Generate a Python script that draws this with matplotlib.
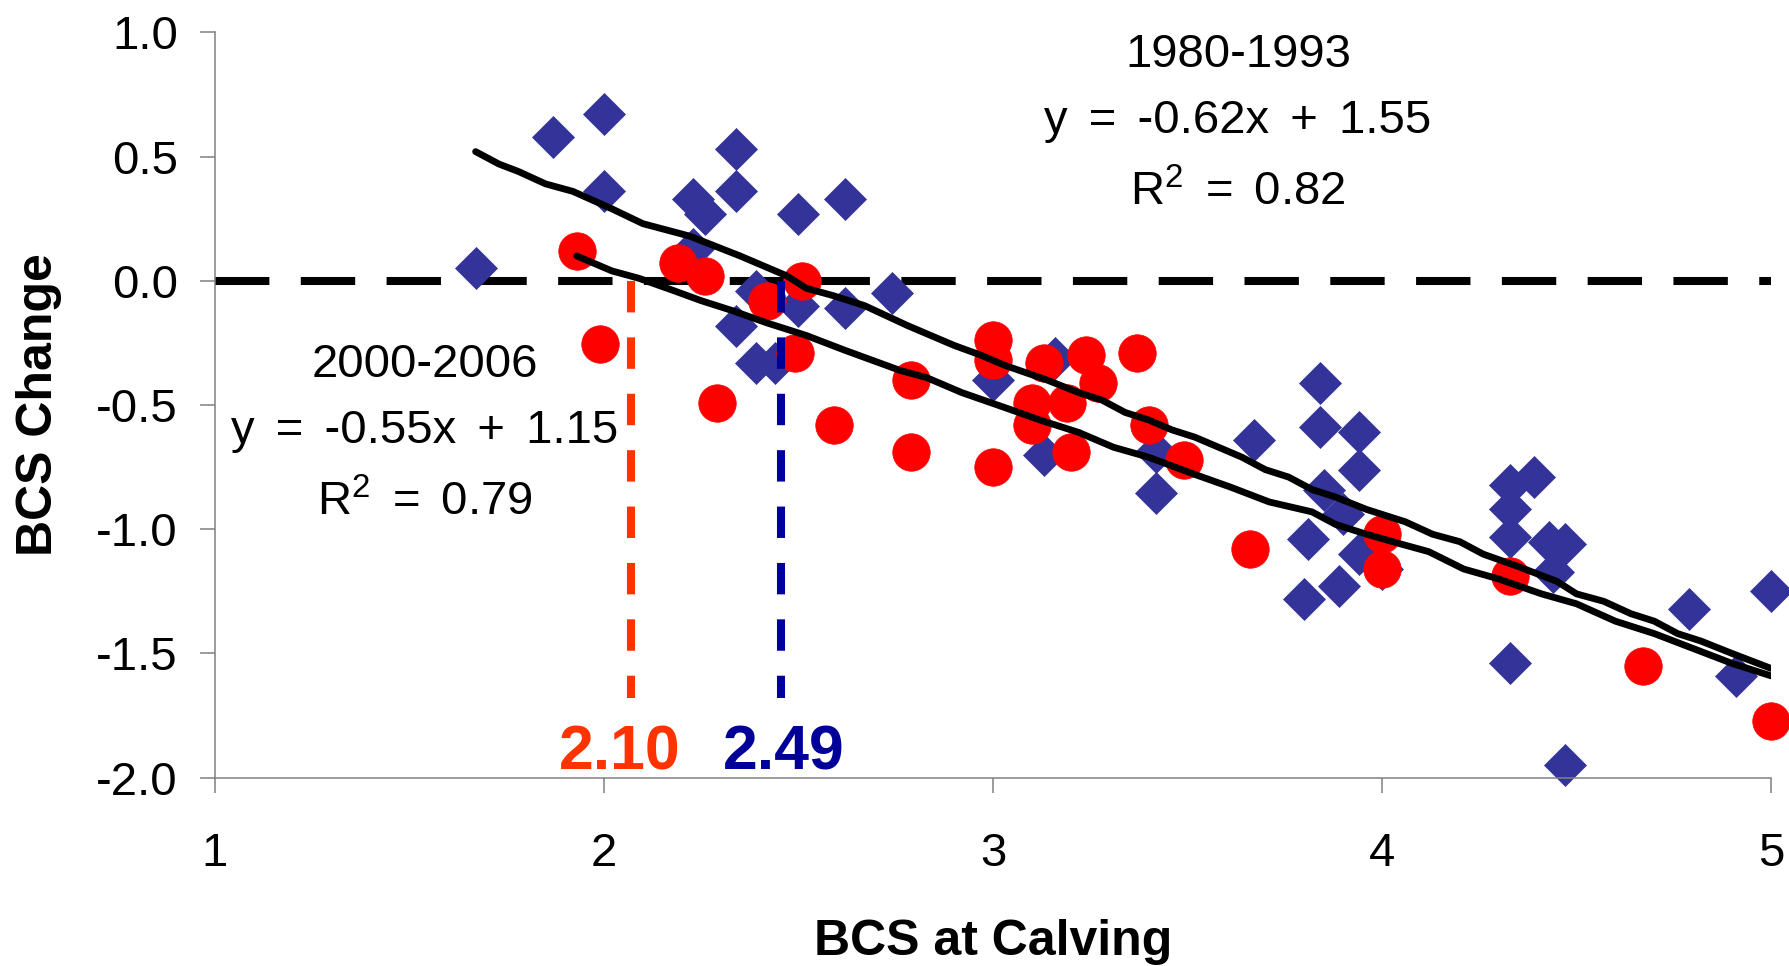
import matplotlib
matplotlib.use("Agg")
import matplotlib.pyplot as plt

plt.rcParams["font.family"] = ["Liberation Sans", "DejaVu Sans"]
plt.rcParams["mathtext.fontset"] = "custom"
plt.rcParams["mathtext.rm"] = "Liberation Sans"

# 1980-1993 herd (blue diamonds)
x_1980 = [1.67, 1.87, 2.00, 2.00, 2.23, 2.26, 2.23, 2.34, 2.34, 2.50, 2.62,
          2.39, 2.34, 2.39, 2.44, 2.50, 2.62, 2.74, 3.00, 3.16, 3.13, 3.42,
          3.42, 3.67, 3.84, 3.84, 3.94, 3.94, 3.85, 3.90, 3.81, 3.94, 4.00,
          3.89, 3.80, 4.33, 4.39, 4.33, 4.33, 4.43, 4.47, 4.44, 4.33, 4.47,
          4.79, 5.00, 4.91]
y_1980 = [0.05, 0.58, 0.67, 0.36, 0.33, 0.27, 0.13, 0.53, 0.36, 0.27, 0.33,
          -0.04, -0.18, -0.33, -0.33, -0.10, -0.11, -0.05, -0.40, -0.31, -0.70, -0.69,
          -0.855, -0.64, -0.41, -0.59, -0.61, -0.76, -0.84, -0.94, -1.04, -1.10, -1.16,
          -1.23, -1.28, -0.82, -0.79, -0.92, -1.03, -1.05, -1.06, -1.17, -1.54, -1.95,
          -1.32, -1.25, -1.59]

# 2000-2006 herd (red circles)
x_2000 = [1.93, 1.99, 2.19, 2.26, 2.29, 2.42, 2.51, 2.49, 2.59, 2.79, 2.79,
          3.00, 3.00, 3.00, 3.13, 3.24, 3.27, 3.37, 3.10, 3.19, 3.10, 3.20,
          3.40, 3.49, 3.66, 4.00, 4.00, 4.33, 4.67, 5.00]
y_2000 = [0.12, -0.255, 0.07, 0.02, -0.49, -0.08, 0.00, -0.29, -0.58, -0.40, -0.69,
          -0.24, -0.32, -0.75, -0.33, -0.30, -0.41, -0.29, -0.49, -0.49, -0.58, -0.69,
          -0.58, -0.72, -1.08, -1.02, -1.16, -1.19, -1.55, -1.77]

# trend lines as drawn in the original
trend_1980_x = [1.67, 1.73, 1.78, 1.85, 1.92, 2.02, 2.10, 2.22, 2.35, 2.44, 2.47,
                2.52, 2.59, 2.67, 2.78, 2.90, 2.97, 3.03, 3.14, 3.22, 3.28, 3.34,
                3.40, 3.46, 3.52, 3.64, 3.70, 3.76, 3.82, 3.88, 3.96, 4.06, 4.13,
                4.20, 4.26, 4.35, 4.45, 4.50, 4.57, 4.64, 4.70, 4.76, 4.82, 4.90, 5.00]
trend_1980_y = [0.52, 0.47, 0.44, 0.39, 0.36, 0.29, 0.23, 0.18, 0.10, 0.04, 0.02,
                -0.03, -0.06, -0.10, -0.18, -0.26, -0.30, -0.34, -0.40, -0.45, -0.48, -0.53,
                -0.56, -0.60, -0.63, -0.71, -0.76, -0.79, -0.84, -0.87, -0.92, -0.97, -1.02,
                -1.05, -1.10, -1.15, -1.21, -1.26, -1.29, -1.34, -1.37, -1.42, -1.45, -1.50, -1.56]
trend_2000_x = [1.93, 2.02, 2.09, 2.18, 2.25, 2.33, 2.42, 2.52, 2.62, 2.76, 2.83,
                2.92, 3.03, 3.12, 3.22, 3.31, 3.40, 3.52, 3.61, 3.71, 3.82, 3.88,
                3.96, 4.05, 4.12, 4.21, 4.30, 4.41, 4.50, 4.60, 4.70, 4.80, 4.90, 5.00]
trend_2000_y = [0.10, 0.04, 0.01, -0.04, -0.08, -0.12, -0.17, -0.22, -0.28, -0.36, -0.39,
                -0.45, -0.51, -0.56, -0.61, -0.67, -0.71, -0.78, -0.83, -0.89, -0.93, -0.98,
                -1.02, -1.06, -1.09, -1.16, -1.20, -1.26, -1.30, -1.37, -1.42, -1.48, -1.54, -1.59]

intercept_x      = [2.07, 2.455]
intercept_labels = ["2.10", "2.49"]
intercept_colors = ["#FF3300", "#000099"]

x_ticks = [1, 2, 3, 4, 5]
y_ticks = [1.0, 0.5, 0.0, -0.5, -1.0, -1.5, -2.0]

BLUE = "#333399"
RED  = "#FF0000"
GREY = "#808080"


def wide(s):
    # Excel spaces the equation a little wider than a plain space
    return s.replace(" ", "\u200a \u200a")


fig = plt.figure(figsize=(17.9, 9.66), dpi=100)
ax = fig.add_axes([0.1201, 0.1949, 0.8693, 0.7716])

ax.set_xlim(1, 5)
ax.set_ylim(-2, 1)

# zero reference line
ax.plot([1, 5], [0, 0], color="black", lw=5.8, dashes=(6.75, 3.9), zorder=1)

ax.plot(x_1980, y_1980, ls="none", marker="D", ms=21, color=BLUE,
        mec=BLUE, mew=0.5, zorder=2, clip_on=False)
ax.plot(x_2000, y_2000, ls="none", marker="o", ms=27, color=RED,
        mec=RED, mew=0.5, zorder=3, clip_on=False)

for xi, lab, col in zip(intercept_x, intercept_labels, intercept_colors):
    ax.plot([xi, xi], [0, -1.68], color=col, lw=5.8, dashes=(3.9, 3.1), zorder=4)

ax.plot(trend_1980_x, trend_1980_y, color="black", lw=4.9, zorder=5,
        solid_joinstyle="round", solid_capstyle="round")
ax.plot(trend_2000_x, trend_2000_y, color="black", lw=4.9, zorder=5,
        solid_joinstyle="round", solid_capstyle="round")

# intercept labels
ax.text(2.041, -1.968, intercept_labels[0], color=intercept_colors[0],
        fontsize=45, fontweight="bold", ha="center", va="baseline", zorder=6)
ax.text(2.463, -1.968, intercept_labels[1], color=intercept_colors[1],
        fontsize=45, fontweight="bold", ha="center", va="baseline", zorder=6)

# regression annotations
ax.text(3.63, 0.862, "1980-1993", fontsize=34, ha="center", va="baseline")
ax.text(3.63, 0.594, wide("y = -0.62x + 1.55"), fontsize=34, ha="center", va="baseline")
ax.text(3.63, 0.305, wide("R$^{2}$ = 0.82"), fontsize=34, ha="center", va="baseline")

ax.text(1.54, -0.386, "2000-2006", fontsize=34, ha="center", va="baseline")
ax.text(1.54, -0.651, wide("y = -0.55x + 1.15"), fontsize=34, ha="center", va="baseline")
ax.text(1.54, -0.946, wide("R$^{2}$ = 0.79"), fontsize=34, ha="center", va="baseline")

ax.set_xticks(x_ticks)
ax.set_xticklabels([str(t) for t in x_ticks])
ax.set_yticks(y_ticks)
ax.set_yticklabels([f"{t:.1f}" for t in y_ticks])

for side in ("top", "right"):
    ax.spines[side].set_visible(False)
for side in ("left", "bottom"):
    ax.spines[side].set_color(GREY)
    ax.spines[side].set_linewidth(1.1)

ax.tick_params(axis="both", direction="out", length=10.8, width=1.1,
               color=GREY, labelsize=34, labelcolor="black")
ax.tick_params(axis="x", pad=28)
ax.tick_params(axis="y", pad=16)

ax.set_xlabel("BCS at Calving", fontsize=36, fontweight="bold")
ax.set_ylabel("BCS Change", fontsize=36, fontweight="bold")
ax.xaxis.set_label_coords(0.5, -0.19)
ax.yaxis.set_label_coords(-0.098, 0.5)

fig.savefig("out.png", dpi=100)
